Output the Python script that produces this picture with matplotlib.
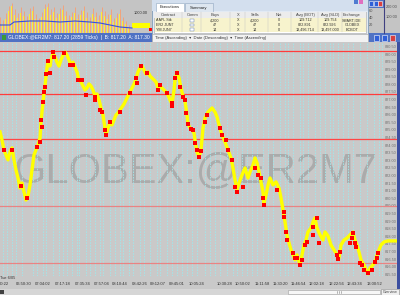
import matplotlib
matplotlib.use('Agg')
import matplotlib.pyplot as plt
from matplotlib.patches import Rectangle
from matplotlib import font_manager as fm

plt.rcParams['font.family'] = ['Liberation Sans', 'DejaVu Sans']

# ---------------- data ----------------
bar_x = [0, 2, 4, 6, 8, 10, 12, 14, 16, 18, 20, 22, 24, 26, 28, 30, 32, 34, 36, 38,
         40, 41, 42, 43, 44, 45, 46, 47, 48, 50, 51, 53, 55, 57, 59, 61, 63, 65, 67, 69,
         71, 73, 75, 77, 79, 81, 83, 85, 87, 89, 91, 93, 95, 97, 99, 101, 103, 105, 106, 108,
         110, 112, 114, 116, 118, 120, 122, 124, 126, 128, 130, 132, 134, 136, 138, 140, 142, 144, 146, 148,
         150, 152, 154, 156, 158, 160, 162, 164, 166, 168, 170, 172, 174, 175, 177, 179, 181, 183, 185, 187,
         188, 190, 192, 194, 195, 197, 199, 201, 203, 205, 208, 212, 215, 217, 219, 222, 225, 228, 231, 233,
         235, 237, 239, 242, 245, 248, 250, 253, 255, 257, 259, 261, 263, 264, 266, 268, 270, 273, 276, 279,
         281, 283, 285, 287, 289, 291, 293, 295, 297, 300, 302, 304, 306, 308, 311, 313, 315, 317, 320, 323,
         325, 328, 331, 334, 337, 339, 341, 344, 347, 350, 353, 355, 357, 359, 361, 364, 366, 368, 370, 373,
         375, 377, 379, 381, 384, 388, 396]
price = [824.87, 824.34, 823.68, 823.36, 823.03, 823.55, 823.82, 823.03, 822.37, 821.84, 821.18, 821.51, 820.92, 820.39, 820.66, 821.38, 822.37, 823.36, 823.68, 824.01,
         824.47, 825.53, 826.18, 826.84, 827.43, 827.89, 828.55, 829.08, 829.47, 829.21, 829.61, 830.07, 829.80, 829.47, 829.21, 829.61, 829.93, 830.13, 829.93, 829.61,
         829.28, 829.47, 829.14, 828.82, 828.29, 828.16, 827.89, 827.63, 827.76, 828.03, 827.89, 827.63, 827.24, 827.37, 826.97, 826.45, 825.99, 825.13, 824.67, 825.13,
         825.53, 825.33, 825.66, 825.99, 826.12, 826.32, 826.51, 826.71, 826.97, 827.24, 827.50, 827.76, 828.03, 828.36, 828.82, 829.08, 829.21, 828.95, 828.68, 828.82,
         828.55, 828.42, 828.29, 828.16, 827.76, 827.89, 827.76, 827.63, 827.50, 827.30, 826.97, 826.71, 827.63, 828.29, 828.82, 828.42, 827.76, 827.24, 826.91, 825.99,
         825.39, 825.13, 825.00, 824.80, 824.34, 823.55, 823.22, 823.68, 825.13, 825.79, 826.18, 826.45, 826.18, 825.86, 825.33, 824.67, 824.21, 823.68, 823.16, 822.50,
         821.71, 821.05, 821.51, 822.04, 822.50, 821.84, 822.24, 822.70, 823.16, 822.83, 822.24, 821.58, 820.92, 820.20, 820.72, 821.38, 821.84, 821.38, 821.58, 821.18,
         820.53, 819.74, 818.95, 818.09, 817.57, 817.11, 816.78, 816.45, 816.78, 816.12, 816.78, 817.43, 817.76, 818.29, 818.55, 818.95, 819.21, 818.55, 818.09, 817.76,
         818.29, 818.03, 817.43, 817.11, 816.78, 816.58, 817.43, 817.76, 817.89, 818.09, 818.29, 817.76, 817.43, 816.97, 816.45, 816.12, 815.79, 815.53, 815.92, 816.12,
         816.32, 816.78, 817.11, 817.43, 817.63, 817.70, 817.70]

red_x = [4, 12, 21, 27, 37, 40, 41, 42, 43, 44, 45, 46, 48, 50, 53, 54, 64, 70, 73, 78,
         82, 86, 95, 95, 100, 102, 105, 106, 110, 120, 130, 136, 137, 141, 147, 158, 160, 167, 172, 172,
         175, 177, 180, 183, 185, 186, 188, 191, 193, 195, 197, 199, 201, 205, 207, 220, 222, 226, 228, 232,
         235, 237, 243, 255, 258, 261, 263, 264, 277, 284, 284, 286, 287, 293, 295, 297, 300, 302, 305, 307,
         313, 313, 317, 319, 337, 338, 340, 350, 352, 353, 355, 356, 360, 362, 364, 368, 372, 375, 377, 378]
red_price = [823.68, 823.68, 821.32, 820.53, 823.88, 824.21, 825.66, 825.20, 826.84, 827.50, 827.83, 828.68, 829.54, 828.75, 830.13, 829.80, 830.07, 829.28, 829.28, 828.29,
             828.29, 827.30, 827.17, 826.97, 826.32, 826.18, 825.00, 824.67, 825.53, 826.18, 827.43, 828.42, 828.09, 829.21, 828.75, 827.63, 827.96, 827.43, 826.78, 826.58,
             828.42, 828.75, 827.83, 827.17, 826.97, 826.12, 825.39, 825.07, 825.00, 824.14, 823.68, 823.22, 823.62, 825.53, 825.99, 825.13, 824.67, 824.34, 823.68, 823.03,
             821.25, 820.92, 821.25, 822.50, 822.04, 821.84, 820.53, 820.07, 821.05, 819.61, 819.28, 818.29, 817.76, 816.91, 816.58, 816.58, 816.12, 816.45, 817.43, 817.63,
             818.62, 818.09, 819.21, 817.57, 816.78, 816.51, 817.00, 817.57, 817.89, 818.22, 817.57, 817.30, 816.25, 816.12, 815.79, 815.59, 815.79, 816.32, 816.58, 816.91]

level_prices = [830.20, 827.37, 824.41, 820.00, 816.25]
level_colors = ['#ff3c3c', '#ff3c3c', '#ff4646', '#e98383', '#e98383']

grid_x = [3, 7, 12, 16, 22, 33, 37, 43, 46, 53, 59, 63, 67, 72, 77, 79, 86, 90, 95, 100,
          103, 110, 115, 120, 123, 129, 133, 140, 144, 150, 157, 160, 167, 172, 177, 182, 187, 192, 197, 205,
          210, 215, 220, 227, 233, 237, 242, 247, 252, 257, 263, 268, 273, 280, 285, 288, 293, 300, 303, 308,
          315, 320, 325, 330, 333, 338, 343, 348, 353, 360, 367, 374, 379, 382]

time_pos = [4, 24, 43, 63, 83, 102, 120, 140, 158, 177, 197, 225, 243, 262, 280, 298, 317, 337, 355, 375]
time_labels = ['00:22', '06:50:30', '07:04:02', '07:17:18', '07:35:34', '07:57:04', '08:10:44',
               '08:42:26', '09:12:07', '09:45:01', '10:05:24', '10:30:28', '10:50:02', '11:11:58',
               '11:30:20', '11:46:54', '12:02:18', '12:22:56', '12:43:34', '13:00:52']
price_ticks = [815.5 + 0.5 * i for i in range(31)]

mini_x = list(range(0, 132, 3))
mini_yellow = [12, 9, 14, 22, 27, 18, 15, 20, 17, 12, 19, 22, 14, 11, 16, 24, 26, 18, 21, 15, 19, 23,
               17, 13, 16, 20, 14, 18, 22, 15, 12, 19, 16, 13, 21, 17, 14, 18, 11, 15, 19, 12, 9, 6]
mini_salmon = [16, 13, 20, 27, 30, 24, 20, 26, 22, 17, 25, 27, 19, 15, 21, 29, 30, 24, 26, 20, 25, 28,
               22, 18, 21, 26, 19, 23, 27, 21, 16, 25, 21, 18, 26, 22, 19, 24, 15, 20, 24, 16, 12, 8]
mini_line_x = [0, 10, 14, 30, 45, 60, 75, 90, 100, 110, 120, 132]
mini_line_v = [8, 8, 11, 12, 12, 11, 12, 11, 10, 8, 6, 5]

exec_cols = ['Contract', 'Comm', 'Buys', 'X', 'Sells', 'Net', 'Avg (BOT)', 'Avg (SLD)', 'Exchange']
exec_rows = [['AAPL Stk', '', '4,200', 'X', '4,200', '0', '109.712', '109.754', 'SMART,IDE'],
             ['ER2 JUN7', '', '47', 'X', '47', '0', '822.891', '822.926', 'GLOBEX'],
             ['YM JUN7', '', '14', 'X', '14', '0', '13,496.714', '13,497.000', 'ECBOT']]

# ---------------- figure ----------------
W, H = 400, 295
BG = '#c9c9c9'
fig = plt.figure(figsize=(4, 2.95), dpi=100, facecolor=BG)


def box(x0, y0, x1, y1):
    return [x0 / W, 1 - y1 / H, (x1 - x0) / W, (y1 - y0) / H]


chrome = fig.add_axes([0, 0, 1, 1], zorder=0)
chrome.set_xlim(0, W)
chrome.set_ylim(H, 0)
chrome.axis('off')


def rect(x0, y0, x1, y1, fc, ec='none', lw=0.5, z=1):
    chrome.add_patch(Rectangle((x0, y0), x1 - x0, y1 - y0, facecolor=fc,
                               edgecolor=ec, lw=lw, zorder=z))


def txt(x, y, s, size=3.0, color='#202020', ha='left', z=3, **kw):
    chrome.text(x, y, s, fontsize=size, color=color, ha=ha, va='center', zorder=z, **kw)


# main window title bar
rect(0, 33, 400, 42, '#4f72c4')
rect(2, 35, 6, 40, '#3a9a3a')
txt(8, 37.6, 'GLOBEX:@ER2M7: 817.20 (2859 Ticks)  |  B: 817.20  A: 817.30', size=3.6, color='white')
for bx, c in [(374, '#2f5fd8'), (382, '#2f5fd8'), (390, '#d84040')]:
    rect(bx, 35, bx + 5, 40.5, c, ec='white', lw=0.4, z=2)

# top right window fragment
rect(368, 0, 400, 33, '#c4c4c4')
rect(368, 0, 384, 8, '#4f72c4')
for bx, c in [(369, '#2f5fd8'), (373.5, '#2f5fd8'), (378, '#d84040')]:
    rect(bx, 1, bx + 4, 6, c, ec='white', lw=0.4, z=2)
chrome.plot([384, 384], [0, 33], color='#404080', lw=0.8, zorder=2)
txt(386, 7, '200.00', size=2.8, color='#505050')
txt(386, 17, '100.00', size=2.8, color='#505050')
txt(369, 11, '60', size=2.8, color='#505050')
txt(369, 18, '40', size=2.8, color='#505050')
txt(369, 25, '20', size=2.8, color='#505050')

# executions window
rect(152, 0, 368, 42, '#e2eaf4', ec='#7f9db9', lw=0.6, z=2)
rect(152, 0, 368, 11, '#d3dfee', z=2)
rect(156, 3, 184, 11.5, 'white', ec='#8fa6c0', lw=0.4, z=2)
txt(170, 7.5, 'Executions', size=3.0, ha='center', z=4)
rect(185, 3, 213, 11.5, '#dde6f0', ec='#8fa6c0', lw=0.4, z=2)
txt(199, 7.5, 'Summary', size=3.0, ha='center', z=4)
rect(354, 0, 358, 4, '#4f7bd0', z=3)
rect(359, 0, 363, 4, '#e070c0', z=3)
rect(154, 12, 366, 33, 'white', ec='#a0a0a0', lw=0.4, z=2)
rect(154, 12, 366, 18, '#ececec', z=2)
col_c = [168, 193, 215, 238, 255, 279, 305, 330, 352]
col_sep = [182, 201, 230, 245, 268, 291, 318, 342]
for cx, name in zip(col_c, exec_cols):
    txt(cx, 15, name, size=2.9, color='#404040', ha='center', z=4)
for sx in col_sep:
    chrome.plot([sx, sx], [12, 32], color='#c0c0c0', lw=0.3, zorder=3)
for i, row in enumerate(exec_rows):
    y0 = 18.2 + i * 4.6
    rect(154.5, y0, 365.5, y0 + 4.4, '#f7f3cd', z=2)
    rect(190, y0 + 0.8, 193.5, y0 + 3.6, 'white', ec='#5070b0', lw=0.3, z=3)
    for cx, val in zip(col_c, row):
        if val:
            ha = 'left' if cx == col_c[0] else 'center'
            xx = 155.5 if cx == col_c[0] else cx
            txt(xx, y0 + 2.2, val, size=2.7, color='#303030', ha=ha, z=4)
rect(152, 34, 368, 41.5, '#f2f2f2', ec='#a0a0a0', lw=0.4, z=2)
txt(155, 37.8, 'Time (Ascending)  \u25be  Date (Descending)  \u25be  Time (Ascending)',
    size=3.0, color='#303030', z=4, family=['Liberation Sans', 'DejaVu Sans'])

# right border, bottom scroll bar
rect(396.5, 42, 400, 289, '#3c4fa0')
rect(0, 288.5, 400, 295, '#d6d6d6')
rect(0, 289.5, 3.5, 293.5, '#404040', z=2)
rect(288, 289.5, 380, 294, '#f7f7f7', ec='#a0a0a0', lw=0.4, z=2)
for gx in [337, 339, 341]:
    chrome.plot([gx, gx], [290.5, 293], color='#808080', lw=0.4, zorder=3)
rect(380.5, 289, 399, 294.5, '#efefef', ec='#909090', lw=0.4, z=2)
txt(389.7, 291.8, 'Overview', size=2.5, color='#404040', ha='center', z=4)
txt(0.5, 277.8, 'Tue 6/05', size=2.8, color='#303030')

# ---------------- mini chart ----------------
mini = fig.add_axes(box(0, 0, 152, 33), zorder=1)
mini.set_facecolor('#c4c4c4')
mini.set_xlim(0, 152)
mini.set_ylim(0, 33)
mini.vlines(mini_x, 0, mini_salmon, color='#f2a27c', lw=0.7)
mini.bar(mini_x, mini_yellow, width=2.2, color='#f8ee3c', linewidth=0)
mini.plot(mini_line_x, mini_line_v, color='#3350e0', lw=0.8)
mini.text(141, 20, '1000.00', fontsize=2.8, color='#303030', ha='center', va='center')
mini.add_patch(Rectangle((132, 5), 18, 5, facecolor='#ffff00', edgecolor='none'))
mini.add_patch(Rectangle((149, 2), 3, 3, facecolor='#ff0000', edgecolor='none'))
for s in mini.spines.values():
    s.set_visible(False)
mini.plot([151.5, 151.5], [0, 33], color='#e8eef8', lw=0.8)
mini.set_xticks([])
mini.set_yticks([])

# ---------------- main chart ----------------
ax = fig.add_axes(box(0, 42, 396.5, 276), zorder=1)
ax.set_facecolor(BG)
ylo, yhi = 815.39, 830.79
ax.set_xlim(0, 396.5)
ax.set_ylim(ylo, yhi)


def has_font(name):
    try:
        fm.findfont(fm.FontProperties(family=name), fallback_to_default=False)
        return True
    except Exception:
        return False


if has_font('Liberation Sans Narrow'):
    wm_family, wm_size = 'Liberation Sans Narrow', 36
else:
    wm_family, wm_size = 'Liberation Sans', 30
ax.text(196, 821.51, 'GLOBEX:@ER2M7', fontsize=wm_size, family=wm_family,
        color='#ababab', ha='center', va='baseline', zorder=1)

ax.vlines(grid_x, ylo, yhi, colors='#a4e4e8', linestyles=(0, (1.6, 1.2)), lw=0.7, zorder=2)
for lv, lc in zip(level_prices, level_colors):
    ax.axhline(lv, color=lc, lw=0.9, zorder=3)
ax.plot(bar_x, price, color='#ffff00', lw=2.4, zorder=4, solid_joinstyle='round')
ax.plot(red_x, red_price, 's', color='#ff0000', ms=2.5, mew=0, zorder=5)

for s in ax.spines.values():
    s.set_visible(False)
ax.set_xticks(time_pos)
ax.set_xticklabels(time_labels, fontsize=3.0, color='#303030')
ax.tick_params(axis='x', length=0, pad=4.2)
ax.yaxis.tick_right()
ax.set_yticks(price_ticks)
ax.set_yticklabels(['%.2f' % p for p in price_ticks], fontsize=2.8, color='#707070')
ax.tick_params(axis='y', length=0, pad=-8.6, right=True, labelright=True,
               left=False, labelleft=False)

fig.savefig('out.png', dpi=100, facecolor=BG)
